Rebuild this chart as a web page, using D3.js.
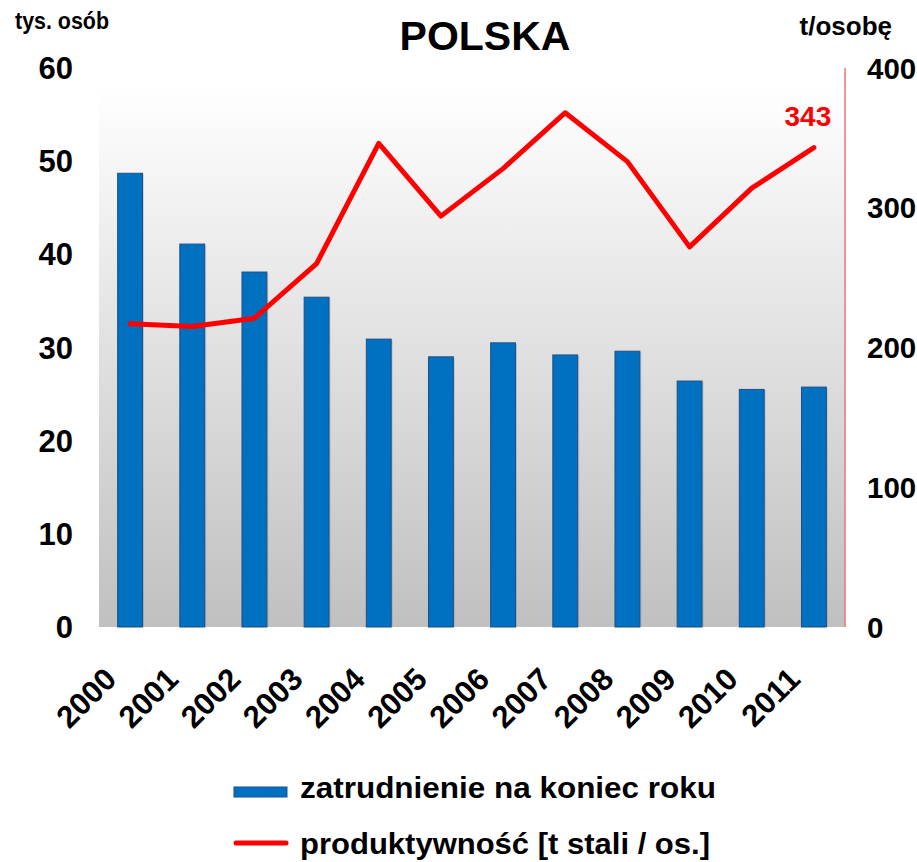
<!DOCTYPE html>
<html>
<head>
<meta charset="utf-8">
<script src="https://cdn.jsdelivr.net/npm/d3@7"></script>
<style>
  body { margin: 0; background: #fff; }
  text { font-family: "Liberation Sans", Arial, sans-serif; font-weight: bold; }
</style>
</head>
<body>
<svg id="chart" width="917" height="862"></svg>
<script>
const years = ["2000", "2001", "2002", "2003", "2004", "2005", "2006", "2007", "2008", "2009", "2010", "2011"];
const employment = [48.7, 41.1, 38.1, 35.4, 30.9, 29.0, 30.5, 29.2, 29.6, 26.4, 25.5, 25.75];
const productivity = [217, 215, 221, 260, 346, 294, 328, 368, 333, 272, 314, 343];
const leftTicks = [0, 10, 20, 30, 40, 50, 60];
const rightTicks = [0, 100, 200, 300, 400];

const svg = d3.select("#chart");
const plotL = 99, plotR = 845, plotT = 68, plotB = 627;

const x = d3.scaleBand().domain(years).range([plotL, plotR]).paddingInner(0.6).paddingOuter(0.3);
const yL = d3.scaleLinear().domain([0, 60]).range([plotB, plotT]);
const yR = d3.scaleLinear().domain([0, 400]).range([plotB, plotT]);
const cx = d => x(d) + x.bandwidth() / 2;

const defs = svg.append("defs");
const grad = defs.append("linearGradient")
    .attr("id", "bg").attr("x1", 0).attr("y1", 0).attr("x2", 0).attr("y2", 1);
grad.append("stop").attr("offset", "0%").attr("stop-color", "#ffffff");
grad.append("stop").attr("offset", "100%").attr("stop-color", "#c0c0c0");

// plot area background
svg.append("rect")
    .attr("x", plotL).attr("y", plotT + 18)
    .attr("width", plotR - plotL).attr("height", plotB - plotT - 18)
    .attr("fill", "url(#bg)");

// bar shadows (slight)
svg.append("g").selectAll("rect")
    .data(years)
    .join("rect")
    .attr("x", d => x(d) + 1.5)
    .attr("y", (d, i) => yL(employment[i]) + 1)
    .attr("width", x.bandwidth())
    .attr("height", (d, i) => plotB - yL(employment[i]) - 1)
    .attr("fill", "#000").attr("opacity", 0.12);

// bars
svg.append("g").selectAll("rect")
    .data(years)
    .join("rect")
    .attr("x", d => x(d))
    .attr("y", (d, i) => yL(employment[i]))
    .attr("width", x.bandwidth())
    .attr("height", (d, i) => plotB - yL(employment[i]))
    .attr("fill", "#0070c0")
    .attr("stroke", "#1f4e8a")
    .attr("stroke-width", 1);

// right axis line
svg.append("line")
    .attr("x1", plotR).attr("x2", plotR)
    .attr("y1", plotT).attr("y2", plotB)
    .attr("stroke", "#f07070").attr("stroke-width", 1.5);

// productivity line
const line = d3.line()
    .x((d, i) => cx(years[i]))
    .y(d => yR(d));
svg.append("path")
    .datum(productivity)
    .attr("d", line)
    .attr("fill", "none")
    .attr("stroke", "#ff0000")
    .attr("stroke-width", 5)
    .attr("stroke-linejoin", "round")
    .attr("stroke-linecap", "round");

// last value label
const lastI = years.length - 1;
svg.append("text")
    .attr("x", cx(years[lastI]) - 6)
    .attr("y", yR(productivity[lastI]) - 22)
    .attr("text-anchor", "middle")
    .attr("font-size", 28)
    .attr("fill", "#ff0000")
    .text(productivity[lastI]);

// left axis ticks
svg.append("g").selectAll("text")
    .data(leftTicks)
    .join("text")
    .attr("x", 73)
    .attr("y", d => yL(d))
    .attr("dy", "0.36em")
    .attr("text-anchor", "end")
    .attr("font-size", 31)
    .text(d => d);

// right axis ticks
svg.append("g").selectAll("text")
    .data(rightTicks)
    .join("text")
    .attr("x", 867)
    .attr("y", d => yR(d))
    .attr("dy", "0.36em")
    .attr("text-anchor", "start")
    .attr("font-size", 29.5)
    .text(d => d);

// x labels, rotated
svg.append("g").selectAll("text")
    .data(years)
    .join("text")
    .attr("transform", d => `translate(${cx(d) - 12},${plotB + 54}) rotate(-45)`)
    .attr("text-anchor", "end")
    .attr("font-size", 31)
    .text(d => d);

// titles
svg.append("text")
    .attr("x", 485).attr("y", 50)
    .attr("text-anchor", "middle")
    .attr("font-size", 41)
    .text("POLSKA");
svg.append("text")
    .attr("x", 15).attr("y", 29)
    .attr("font-size", 24)
    .attr("textLength", 94).attr("lengthAdjust", "spacingAndGlyphs")
    .text("tys. osób");
svg.append("text")
    .attr("x", 892).attr("y", 35)
    .attr("text-anchor", "end")
    .attr("font-size", 26)
    .text("t/osobę");

// legend
const lg = svg.append("g");
lg.append("rect")
    .attr("x", 234).attr("y", 787).attr("width", 53).attr("height", 10)
    .attr("fill", "#0070c0").attr("stroke", "#1f4e8a");
lg.append("text")
    .attr("x", 300).attr("y", 798)
    .attr("font-size", 29)
    .attr("textLength", 416).attr("lengthAdjust", "spacingAndGlyphs")
    .text("zatrudnienie na koniec roku");
lg.append("line")
    .attr("x1", 236).attr("x2", 286).attr("y1", 843).attr("y2", 843)
    .attr("stroke", "#ff0000").attr("stroke-width", 5).attr("stroke-linecap", "round");
lg.append("text")
    .attr("x", 300).attr("y", 854)
    .attr("font-size", 29)
    .attr("textLength", 410).attr("lengthAdjust", "spacingAndGlyphs")
    .text("produktywność [t stali / os.]");
</script>
</body>
</html>
